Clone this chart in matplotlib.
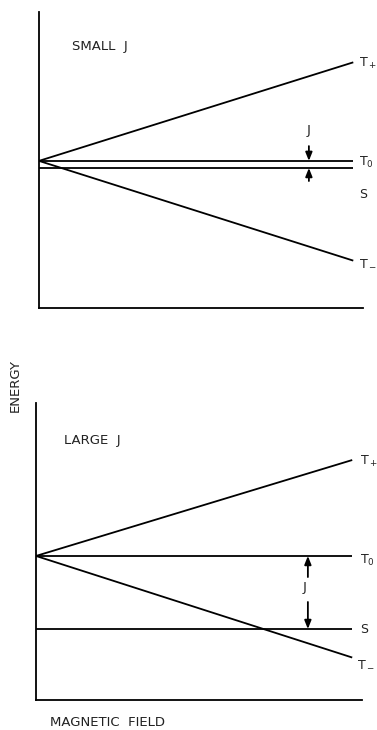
import matplotlib
matplotlib.use("Agg")
import matplotlib.pyplot as plt

plt.rcParams['font.family'] = ['DejaVu Sans']
plt.rcParams['mathtext.default'] = 'regular'

# Field axis: start and end of each level line
field = [0.0, 0.97]

# Small exchange coupling panel
small_T_plus = [0.497, 0.830]
small_T_zero = [0.497, 0.497]
small_T_minus = [0.497, 0.160]
small_S = [0.473, 0.473]

# Large exchange coupling panel
large_T_plus = [0.485, 0.808]
large_T_zero = [0.485, 0.485]
large_T_minus = [0.485, 0.143]
large_S = [0.239, 0.239]

level_labels = ["T$_+$", "T$_0$", "S", "T$_-$"]
panel_titles = ["SMALL  J", "LARGE  J"]

fig = plt.figure(figsize=(3.77, 7.30), dpi=100)

ax_top = fig.add_axes([39/377, (730-308)/730, 324/377, 296/730])
ax_bot = fig.add_axes([36/377, (730-700)/730, 326/377, 297/730])

text_kw = dict(fontsize=9.5, color="#222222")
lab_kw = dict(fontsize=9, color="#222222", ha="left", va="center", clip_on=False)

def setup(ax):
    ax.set_xlim(0, 1)
    ax.set_ylim(0, 1)
    for side in ("top", "right"):
        ax.spines[side].set_visible(False)
    for side in ("left", "bottom"):
        ax.spines[side].set_linewidth(1.3)
    ax.set_xticks([])
    ax.set_yticks([])
    ax.patch.set_alpha(0)

def arrow(ax, x, y_from, y_to):
    ax.annotate("", xy=(x, y_to), xytext=(x, y_from),
                arrowprops=dict(arrowstyle="-|>,head_length=0.5,head_width=0.2",
                                color="black", lw=1.3, shrinkA=0, shrinkB=0))

# Top panel
setup(ax_top)
for ys in (small_T_plus, small_T_zero, small_S, small_T_minus):
    ax_top.plot(field, ys, color="black", lw=1.3, solid_capstyle="butt")
ax_top.text(0.103, 0.885, panel_titles[0], ha="left", va="center", **text_kw)
xl = 0.988
ax_top.text(xl, small_T_plus[1] - 0.005, level_labels[0], **lab_kw)
ax_top.text(xl, small_T_zero[1] - 0.005, level_labels[1], **lab_kw)
ax_top.text(xl, 0.382, level_labels[2], **lab_kw)
ax_top.text(xl, small_T_minus[1] - 0.005, level_labels[3], **lab_kw)
arrow(ax_top, 0.833, 0.547, small_T_zero[0])
arrow(ax_top, 0.833, 0.429, small_S[0])
ax_top.text(0.833, 0.60, "J", ha="center", va="center", **text_kw)

# Bottom panel
setup(ax_bot)
for ys in (large_T_plus, large_T_zero, large_S, large_T_minus):
    ax_bot.plot(field, ys, color="black", lw=1.3, solid_capstyle="butt")
ax_bot.text(0.086, 0.875, panel_titles[1], ha="left", va="center", **text_kw)
xl = 0.994
ax_bot.text(xl, large_T_plus[1] - 0.005, level_labels[0], **lab_kw)
ax_bot.text(xl, large_T_zero[1] - 0.015, level_labels[1], **lab_kw)
ax_bot.text(xl, large_S[1], level_labels[2], **lab_kw)
ax_bot.text(xl - 0.01, large_T_minus[1] - 0.02, level_labels[3], **lab_kw)
arrow(ax_bot, 0.834, 0.414, large_T_zero[0])
arrow(ax_bot, 0.834, 0.330, large_S[0])
ax_bot.text(0.825, 0.38, "J", ha="center", va="center", **text_kw)

fig.text(15/377, (730-386)/730, "ENERGY", rotation=90, ha="center", va="center", **text_kw)
fig.text(50/377, (730-723)/730, "MAGNETIC  FIELD", ha="left", va="center", **text_kw)

fig.savefig("out.png", dpi=100, facecolor="white")
